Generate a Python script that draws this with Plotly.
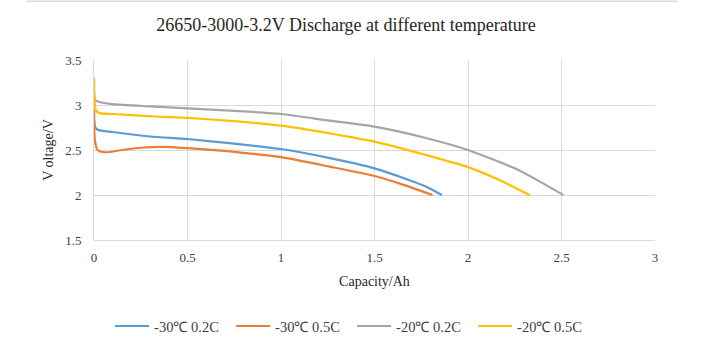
import plotly.graph_objects as go

# Data
cap_m30_02 = [0, 0.005, 0.02, 0.1, 0.3, 0.5, 0.75, 1.0, 1.25, 1.5, 1.68, 1.78, 1.86]
v_m30_02 = [2.95, 2.76, 2.725, 2.70, 2.65, 2.622, 2.57, 2.511, 2.415, 2.296, 2.17, 2.09, 2.0]

cap_m30_05 = [0, 0.005, 0.02, 0.06, 0.15, 0.25, 0.37, 0.5, 0.75, 1.0, 1.26, 1.5, 1.66, 1.81]
v_m30_05 = [2.95, 2.6, 2.5, 2.475, 2.50, 2.525, 2.535, 2.52, 2.48, 2.42, 2.315, 2.211, 2.11, 2.0]

cap_m20_02 = [0, 0.005, 0.02, 0.1, 0.3, 0.5, 0.75, 1.0, 1.26, 1.5, 1.8, 2.0, 2.25, 2.375, 2.51]
v_m20_02 = [3.15, 3.06, 3.04, 3.01, 2.985, 2.963, 2.935, 2.90, 2.826, 2.759, 2.62, 2.5, 2.296, 2.16, 2.0]

cap_m20_05 = [0, 0.003, 0.01, 0.03, 0.1, 0.3, 0.5, 0.75, 1.0, 1.26, 1.5, 1.8, 2.0, 2.16, 2.33]
v_m20_05 = [3.3, 3.05, 2.94, 2.91, 2.90, 2.875, 2.856, 2.82, 2.77, 2.685, 2.593, 2.43, 2.31, 2.174, 2.0]

series_names = ["-30℃ 0.2C", "-30℃ 0.5C", "-20℃ 0.2C", "-20℃ 0.5C"]
series_x = [cap_m30_02, cap_m30_05, cap_m20_02, cap_m20_05]
series_y = [v_m30_02, v_m30_05, v_m20_02, v_m20_05]
colors = ["#5B9BD5", "#ED7D31", "#A5A5A5", "#FFC000"]

x_ticks = [0, 0.5, 1, 1.5, 2, 2.5, 3]
x_ticklabels = ["0", "0.5", "1", "1.5", "2", "2.5", "3"]
y_ticks = [1.5, 2, 2.5, 3, 3.5]
y_ticklabels = ["1.5", "2", "2.5", "3", "3.5"]

SERIF = "Liberation Serif, Times New Roman, serif"

fig = go.Figure()
for name, xs, ys, c in zip(series_names, series_x, series_y, colors):
    fig.add_trace(go.Scatter(x=xs, y=ys, mode="lines", name=name,
                             line=dict(color=c, width=2.2, shape="spline", smoothing=0.6)))

fig.update_layout(
    width=705, height=353,
    margin=dict(l=94, r=50, t=60, b=112),
    paper_bgcolor="white", plot_bgcolor="white",
    font=dict(family=SERIF, size=13, color="#404040"),
    title=dict(text="26650-3000-3.2V Discharge at different temperature",
               x=346 / 705, xanchor="center", y=1 - 25 / 353, yanchor="middle",
               font=dict(family=SERIF, size=18, color="#262626")),
    showlegend=True,
    legend=dict(orientation="h", x=0.46, xanchor="center", y=-0.47, yanchor="middle",
                font=dict(family=SERIF, size=14.5, color="#404040"),
                entrywidth=72, entrywidthmode="pixels", itemwidth=34),
    xaxis=dict(range=[0, 3], tickvals=x_ticks, ticktext=x_ticklabels,
               showgrid=True, gridcolor="#D9D9D9", gridwidth=1,
               showline=True, linecolor="#D9D9D9", linewidth=1,
               zeroline=False, ticks="outside", ticklen=5, tickcolor="white",
               tickfont=dict(family=SERIF, size=13, color="#404040"),
               title=dict(text="Capacity/Ah", standoff=12,
                          font=dict(family=SERIF, size=14, color="#262626"))),
    yaxis=dict(range=[1.5, 3.5], tickvals=y_ticks, ticktext=y_ticklabels,
               showgrid=True, gridcolor="#D9D9D9", gridwidth=1,
               showline=True, linecolor="#D9D9D9", linewidth=1,
               zeroline=False, ticks="outside", ticklen=9, tickcolor="white",
               tickfont=dict(family=SERIF, size=13, color="#404040"),
               title=dict(text="V oltage/V", standoff=8,
                          font=dict(family=SERIF, size=14, color="#262626"))),
    shapes=[dict(type="line", xref="paper", yref="paper",
                 x0=(27 - 94) / 561, x1=(677 - 94) / 561,
                 y0=(241 - 1) / 181, y1=(241 - 1) / 181,
                 line=dict(color="#D9D9D9", width=1.5))],
)

fig.write_html("out.html")
